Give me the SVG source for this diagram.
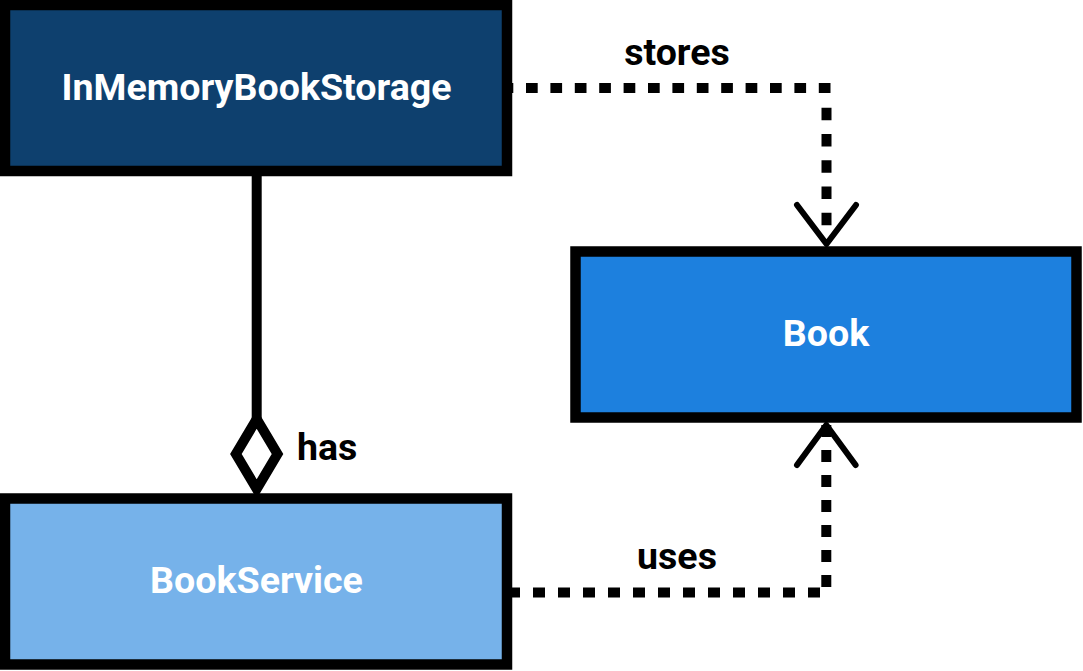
<svg xmlns="http://www.w3.org/2000/svg" width="1083" height="671" viewBox="0 0 1083 671">
<style>
.node{stroke:#000;stroke-width:10.5}
.ntext{font-family:Roboto,"Liberation Sans",sans-serif;font-weight:bold;font-size:37.6px;fill:#fff;text-anchor:middle}
.label{font-family:Roboto,"Liberation Sans",sans-serif;font-weight:bold;font-size:37.5px;fill:#000}
.dash{stroke:#000;stroke-width:10;fill:none}
.head{stroke:#000;stroke-width:6;fill:none;stroke-linecap:round;stroke-linejoin:round}
</style>
<rect width="1083" height="671" fill="#fff"/>
<g id="connectors">
  <line x1="256.7" y1="171" x2="256.7" y2="420" stroke="#000" stroke-width="10"/>
  <path d="M256.7,419 L277.5,454 L256.7,489 L235.9,454 Z" fill="#fff" stroke="#000" stroke-width="10" stroke-linejoin="miter"/>
  <line class="dash" x1="501.6" y1="88" x2="831" y2="88" stroke-dasharray="11.7 12.7"/>
  <line class="dash" x1="826.5" y1="107.7" x2="826.5" y2="242" stroke-dasharray="12.5 13.75"/>
  <polyline class="head" points="797,205 826.5,244 856,205"/>
  <line class="dash" x1="508" y1="592.5" x2="821" y2="592.5" stroke-dasharray="12 13"/>
  <line class="dash" x1="826.3" y1="587" x2="826.3" y2="425" stroke-dasharray="12 13"/>
  <polyline class="head" points="797,465 826.3,425 855.6,465"/>
  <text class="label" x="677" y="65" text-anchor="middle">stores</text>
  <text class="label" x="297" y="460">has</text>
  <text class="label" x="677" y="569" text-anchor="middle">uses</text>
</g>
<g id="InMemoryBookStorage">
  <rect class="node" x="5" y="5" width="502" height="166" fill="#0E406E"/>
  <text class="ntext" x="256.5" y="100">InMemoryBookStorage</text>
</g>
<g id="Book">
  <rect class="node" x="575.5" y="251.5" width="501" height="166" fill="#1D80DE"/>
  <text class="ntext" x="826" y="346">Book</text>
</g>
<g id="BookService">
  <rect class="node" x="5" y="498.5" width="502" height="166" fill="#76B2EA"/>
  <text class="ntext" x="256.5" y="593">BookService</text>
</g>
</svg>
